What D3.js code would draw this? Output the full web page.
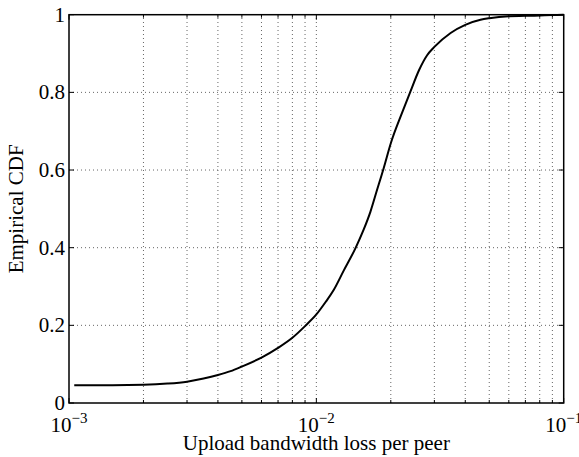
<!DOCTYPE html>
<html>
<head>
<meta charset="utf-8">
<script src="https://cdn.jsdelivr.net/npm/d3@7"></script>
<style>
  html, body { margin: 0; padding: 0; background: #fff; }
  svg { display: block; }
  text { font-family: "Liberation Serif", "Times New Roman", serif; fill: #000; }
</style>
</head>
<body>
<svg id="chart" width="579" height="457"></svg>
<script>
// ---- Data ----
const lossValues = [1.05e-3, 1.5e-3, 2e-3, 2.5e-3, 3e-3, 3.5e-3, 4e-3, 4.5e-3, 5e-3, 6e-3, 7e-3, 8e-3, 9e-3,
  1e-2, 1.09e-2, 1.175e-2, 1.29e-2, 1.44e-2, 1.55e-2, 1.655e-2, 1.76e-2, 1.83e-2, 1.874e-2, 2e-2, 2.22e-2, 2.4e-2,
  2.6e-2, 2.8e-2, 3e-2, 3.49e-2, 4e-2, 4.61e-2, 5e-2, 6e-2, 7e-2, 8e-2, 9e-2, 1e-1];
const cdfValues = [0.046, 0.046, 0.047, 0.050, 0.055, 0.063, 0.072, 0.082, 0.094, 0.117, 0.142, 0.168, 0.198,
  0.228, 0.260, 0.291, 0.341, 0.399, 0.445, 0.493, 0.549, 0.584, 0.606, 0.669, 0.747, 0.802,
  0.857, 0.895, 0.917, 0.953, 0.974, 0.987, 0.991, 0.996, 0.997, 0.998, 0.999, 1.0];
const yTickValues = [0, 0.2, 0.4, 0.6, 0.8, 1];
const yTickLabels = ["0", "0.2", "0.4", "0.6", "0.8", "1"];
const xMajorTicks = [1e-3, 1e-2, 1e-1];
const xTickExponents = ["\u22123", "\u22122", "\u22121"];
const xLabel = "Upload bandwidth loss per peer";
const yLabel = "Empirical CDF";

// ---- Layout ----
const mLeft = 69, mRight = 563.7, mTop = 14.7, mBottom = 403;
const svg = d3.select("#chart");
const x = d3.scaleLog().domain([1e-3, 1e-1]).range([mLeft, mRight]);
const y = d3.scaleLinear().domain([0, 1]).range([mBottom, mTop]);

// grid
const grid = svg.append("g").attr("stroke", "#666").attr("stroke-width", 1).attr("stroke-dasharray", "1,3");
x.ticks().filter(d => d > 1e-3 * 1.001 && d < 1e-1 * 0.999).forEach(d => {
  grid.append("line").attr("x1", x(d)).attr("x2", x(d)).attr("y1", mBottom).attr("y2", mTop);
});
yTickValues.filter(d => d > 0 && d < 1).forEach(d => {
  grid.append("line").attr("x1", mLeft).attr("x2", mRight).attr("y1", y(d)).attr("y2", y(d));
});

// curve
const line = d3.line().curve(d3.curveMonotoneX).x((d, i) => x(lossValues[i])).y(d => y(d));
svg.append("path").datum(cdfValues).attr("d", line)
  .attr("fill", "none").attr("stroke", "#000").attr("stroke-width", 2).attr("stroke-linejoin", "round");

// ticks (inward, all sides)
const ticks = svg.append("g").attr("stroke", "#000").attr("stroke-width", 1);
x.ticks().forEach(d => {
  const major = xMajorTicks.some(m => Math.abs(Math.log10(m) - Math.log10(d)) < 1e-6);
  const len = major ? 5 : 3;
  ticks.append("line").attr("x1", x(d)).attr("x2", x(d)).attr("y1", mBottom).attr("y2", mBottom - len);
  ticks.append("line").attr("x1", x(d)).attr("x2", x(d)).attr("y1", mTop).attr("y2", mTop + len);
});
yTickValues.forEach(d => {
  ticks.append("line").attr("x1", mLeft).attr("x2", mLeft + 5).attr("y1", y(d)).attr("y2", y(d));
  ticks.append("line").attr("x1", mRight).attr("x2", mRight - 5).attr("y1", y(d)).attr("y2", y(d));
});

// box
svg.append("rect").attr("x", mLeft).attr("y", mTop).attr("width", mRight - mLeft).attr("height", mBottom - mTop)
  .attr("fill", "none").attr("stroke", "#000").attr("stroke-width", 1.5);

// y tick labels
yTickValues.forEach((d, i) => {
  svg.append("text").attr("x", mLeft - 4).attr("y", y(d) + 7)
    .attr("text-anchor", "end").attr("font-size", 21).text(yTickLabels[i]);
});

// x tick labels
xMajorTicks.forEach((d, i) => {
  const t = svg.append("text").attr("x", x(d)).attr("y", 432)
    .attr("text-anchor", "middle").attr("font-size", 21);
  t.append("tspan").text("10");
  t.append("tspan").attr("dy", -9).attr("font-size", 15).text(xTickExponents[i]);
});

// axis labels
svg.append("text").attr("x", (mLeft + mRight) / 2).attr("y", 450)
  .attr("text-anchor", "middle").attr("font-size", 21).text(xLabel);
svg.append("text").attr("transform", `translate(23, ${(mTop + mBottom) / 2}) rotate(-90)`)
  .attr("text-anchor", "middle").attr("font-size", 21).text(yLabel);
</script>
</body>
</html>
